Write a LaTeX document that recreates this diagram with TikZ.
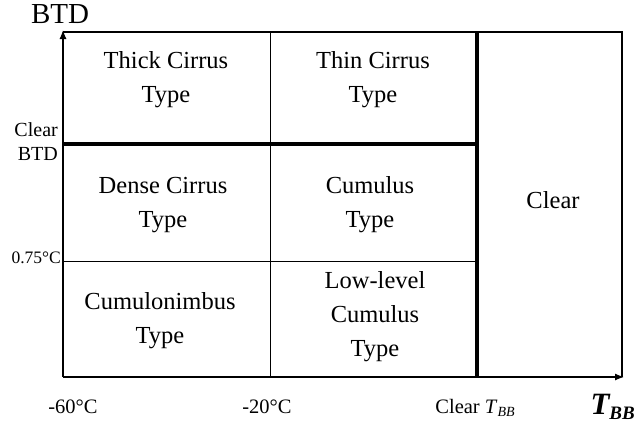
\documentclass[tikz,border=0pt]{standalone}
\usepackage{fontspec}
\setmainfont{Liberation Serif}
\usetikzlibrary{arrows.meta}
\begin{document}
\begin{tikzpicture}[x=1pt,y=-1pt,
  thinline/.style={line width=1.2pt},
  thickline/.style={line width=3.5pt},
  cell/.style={align=center,font=\fontsize{24.5}{34}\selectfont,inner sep=0pt},
  axlabel/.style={font=\fontsize{20.5}{24}\selectfont,inner sep=0pt}]
\useasboundingbox (0,0) rectangle (640,424);
% corners
\coordinate (O) at (63,377);
\coordinate (Ytop) at (63,30);
\coordinate (Xend) at (624,377);
\coordinate (TR) at (622,32);
\coordinate (TL) at (63,32);
\coordinate (BR) at (622,377);
% frame
\draw[thinline] (TL) -- (TR) -- (BR);
\draw[thinline,-{Latex[length=9pt,width=7pt]}] (O) -- (Ytop);
\draw[thinline,-{Latex[length=9pt,width=7pt]}] (O) -- (Xend);
% grid
\coordinate (H1a) at (63,144); \coordinate (H1b) at (477,144);
\coordinate (H2a) at (63,261); \coordinate (H2b) at (477,261);
\coordinate (V1a) at (270,32); \coordinate (V1b) at (270,377);
\coordinate (V2a) at (477,32); \coordinate (V2b) at (477,377);
\draw[thickline] (H1a) -- (H1b);
\draw[line width=0.8pt] (H2a) -- (H2b);
\draw[line width=0.8pt] (V1a) -- (V1b);
\draw[thickline] (V2a) -- (V2b);
% cells
\node[cell] (thick) at (166,80) {Thick Cirrus\\Type};
\node[cell] (thin) at (373,80) {Thin Cirrus\\Type};
\node[cell] (dense) at (163,205) {Dense Cirrus\\Type};
\node[cell] (cumulus) at (370,205) {Cumulus\\Type};
\node[cell] (clear) at (553,200) {Clear};
\node[cell] (cb) at (160,321) {Cumulonimbus\\Type};
\node[cell] (low) at (375,317) {Low-level\\Cumulus\\Type};
% axis labels
\node[font=\fontsize{29}{32}\selectfont,inner sep=0pt] (btd) at (60,14) {BTD};
\node[axlabel,align=right,anchor=east,font=\fontsize{20}{24}\selectfont] (clearbtd) at (58,142) {Clear\\BTD};
\node[axlabel,anchor=east,font=\fontsize{17.5}{20}\selectfont] (p075) at (61,258) {0.75°C};
\node[axlabel] (m60) at (73,407) {-60°C};
\node[axlabel] (m20) at (267,407) {-20°C};
\node[axlabel] (cleartbb) at (475,408) {Clear \textit{T}\raisebox{-0.3ex}{\fontsize{14}{16}\selectfont\textit{BB}}};
\node[font=\fontsize{31}{33}\selectfont\bfseries\itshape,inner sep=0pt,anchor=east] (tbb) at (635,407) {T\raisebox{-0.35ex}{\fontsize{19}{21}\selectfont BB}};
\end{tikzpicture}
\end{document}
